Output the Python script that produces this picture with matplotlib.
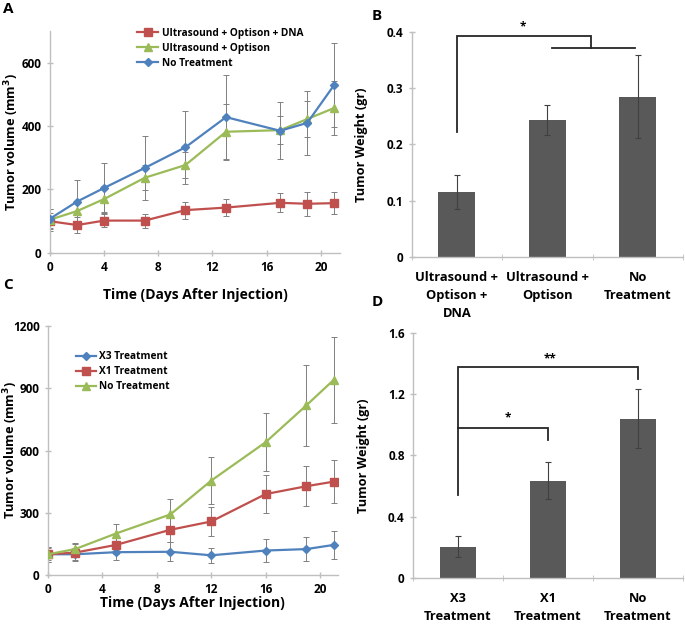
import numpy as np
import matplotlib.pyplot as plt

plt.rcParams['font.family'] = ['Open Sans', 'DejaVu Sans']
plt.rcParams['font.weight'] = 'bold'

# panel A - tumor volume
days_a = [0, 2, 4, 7, 10, 13, 17, 19, 21]
dna_y = [100, 88, 102, 102, 135, 143, 158, 155, 157]
dna_err = [25, 25, 20, 22, 27, 27, 30, 38, 35]
opt_y = [105, 132, 170, 237, 277, 382, 387, 422, 457]
opt_err = [35, 30, 40, 40, 40, 88, 45, 58, 85]
not_a_y = [108, 162, 205, 268, 333, 428, 385, 410, 530]
not_a_err = [30, 68, 80, 100, 115, 133, 90, 100, 133]

# panel B - tumor weight
cats_b = ['Ultrasound +\nOptison +\nDNA', 'Ultrasound +\nOptison', 'No\nTreatment']
w_b = [0.115, 0.243, 0.285]
w_b_err = [0.03, 0.027, 0.073]

# panel C - tumor volume
days_c = [0, 2, 5, 9, 12, 16, 19, 21]
x3_y = [100, 100, 110, 112, 95, 118, 125, 145]
x3_err = [35, 30, 40, 45, 35, 55, 58, 68]
x1_y = [100, 108, 145, 218, 258, 390, 428, 450]
x1_err = [35, 40, 45, 60, 68, 90, 97, 105]
not_c_y = [100, 125, 200, 292, 455, 640, 818, 940]
not_c_err = [30, 30, 48, 75, 115, 140, 195, 205]

# panel D - tumor weight
cats_d = ['X3\nTreatment', 'X1\nTreatment', 'No\nTreatment']
w_d = [0.205, 0.635, 1.04]
w_d_err = [0.07, 0.12, 0.19]

red = '#C0504D'
green = '#9BBB59'
blue = '#4F81BD'
bar_col = '#595959'
spine_col = '#BFBFBF'

fig = plt.figure(figsize=(6.85, 6.24), dpi=100)
fs = 8.5     # tick labels
lfs = 9.2    # axis labels


def style(ax):
    for s in ['top', 'right']:
        ax.spines[s].set_visible(False)
    for s in ['left', 'bottom']:
        ax.spines[s].set_color(spine_col)
        ax.spines[s].set_linewidth(1)
    ax.tick_params(axis='both', direction='inout', length=5, color=spine_col,
                   labelsize=fs, width=1)
    for lab in ax.get_xticklabels() + ax.get_yticklabels():
        lab.set_fontweight('bold')


def series(ax, x, y, err, col, marker, ms, label):
    ax.errorbar(x, y, yerr=err, fmt='none', ecolor='#808080', elinewidth=0.7,
                capsize=2.2, capthick=0.7, zorder=1)
    ax.plot(x, y, color=col, marker=marker, markersize=ms, linewidth=1.6,
            label=label, zorder=3)


# A
axA = fig.add_axes([0.073, 0.5946, 0.423, 0.356])
series(axA, days_a, dna_y, dna_err, red, 's', 6, 'Ultrasound + Optison + DNA')
series(axA, days_a, opt_y, opt_err, green, '^', 5.5, 'Ultrasound + Optison')
series(axA, days_a, not_a_y, not_a_err, blue, 'D', 4, 'No Treatment')
axA.set_xlim(0, 21.4)
axA.set_ylim(0, 700)
axA.set_xticks([0, 4, 8, 12, 16, 20])
axA.set_yticks([0, 200, 400, 600])
axA.set_ylabel('Tumor volume (mm$^\\mathbf{3}$)', fontsize=lfs, fontweight='bold')
axA.yaxis.set_label_coords(-0.1, 0.5)
axA.set_xlabel('Time (Days After Injection)', fontsize=lfs + 0.8, fontweight='bold', labelpad=10)
axA.legend(loc='upper left', bbox_to_anchor=(0.27, 1.055), frameon=False,
           prop={'size': 7.3, 'weight': 'bold'}, handlelength=2.0, labelspacing=0.4,
           handletextpad=0.4)
style(axA)


def bars(ax, cats, vals, errs):
    x = np.arange(len(cats))
    ax.bar(x, vals, width=0.41, color=bar_col, zorder=2)
    ax.errorbar(x, vals, yerr=errs, fmt='none', ecolor='#404040', elinewidth=0.8,
                capsize=2.5, capthick=0.8, zorder=3)
    ax.set_xlim(-0.5, len(cats) - 0.5)
    ax.set_xticks(x)
    ax.set_xticklabels(cats, fontsize=9.3, fontweight='bold', linespacing=1.5)
    ax.set_xticks(np.arange(len(cats) + 1) - 0.5, minor=True)
    return x


# B
axB = fig.add_axes([0.601, 0.588, 0.396, 0.361])
xb = bars(axB, cats_b, w_b, w_b_err)
axB.set_ylim(0, 0.4)
axB.set_yticks([0, 0.1, 0.2, 0.3, 0.4])
axB.set_yticklabels(['0', '0.1', '0.2', '0.3', '0.4'])
axB.set_ylabel('Tumor Weight (gr)', fontsize=lfs, fontweight='bold')
axB.yaxis.set_label_coords(-0.16, 0.5)
style(axB)
axB.tick_params(axis='x', which='major', length=0, pad=10, labelsize=9.3)
axB.tick_params(axis='x', which='minor', direction='inout', length=5, color=spine_col)
axB.plot([xb[0], xb[0], 1.48, 1.48], [0.223, 0.393, 0.393, 0.372], color='#262626',
         lw=1.3, clip_on=False, solid_joinstyle='miter')
axB.plot([1.05, 1.97], [0.372, 0.372], color='#262626', lw=1.3, clip_on=False)
axB.text(0.73, 0.398, '*', ha='center', va='bottom', fontsize=8.5, fontweight='bold')

# C
axC = fig.add_axes([0.070, 0.0785, 0.423, 0.399])
series(axC, days_c, x3_y, x3_err, blue, 'D', 4, 'X3 Treatment')
series(axC, days_c, x1_y, x1_err, red, 's', 6, 'X1 Treatment')
series(axC, days_c, not_c_y, not_c_err, green, '^', 5.5, 'No Treatment')
axC.set_xlim(0, 21.3)
axC.set_ylim(0, 1200)
axC.set_xticks([0, 4, 8, 12, 16, 20])
axC.set_yticks([0, 300, 600, 900, 1200])
axC.set_ylabel('Tumor volume (mm$^\\mathbf{3}$)', fontsize=lfs, fontweight='bold')
axC.yaxis.set_label_coords(-0.097, 0.5)
axC.set_xlabel('Time (Days After Injection)', fontsize=lfs + 0.8, fontweight='bold', labelpad=0)
axC.legend(loc='upper left', bbox_to_anchor=(0.065, 0.935), frameon=False,
           prop={'size': 7.3, 'weight': 'bold'}, handlelength=2.0, labelspacing=0.4,
           handletextpad=0.3)
style(axC)

# D
axD = fig.add_axes([0.603, 0.0737, 0.394, 0.393])
xd = bars(axD, cats_d, w_d, w_d_err)
axD.set_ylim(0, 1.6)
axD.set_yticks([0, 0.4, 0.8, 1.2, 1.6])
axD.set_yticklabels(['0', '0.4', '0.8', '1.2', '1.6'])
axD.set_ylabel('Tumor Weight (gr)', fontsize=lfs, fontweight='bold')
axD.yaxis.set_label_coords(-0.16, 0.5)
style(axD)
axD.tick_params(axis='x', which='major', length=0, pad=10, labelsize=9.3)
axD.tick_params(axis='x', which='minor', direction='inout', length=5, color=spine_col)
axD.plot([xd[0], xd[0], xd[2], xd[2]], [0.54, 1.375, 1.375, 1.3], color='#262626',
         lw=1.3, clip_on=False, solid_joinstyle='miter')
axD.plot([xd[0], xd[1], xd[1]], [0.98, 0.98, 0.9], color='#262626',
         lw=1.3, clip_on=False, solid_joinstyle='miter')
axD.text(1.02, 1.39, '**', ha='center', va='bottom', fontsize=8.5, fontweight='bold')
axD.text(0.55, 1.0, '*', ha='center', va='bottom', fontsize=8.5, fontweight='bold')

# panel letters
fig.text(0.005, 0.997, 'A', fontsize=11, fontweight='bold', va='top')
fig.text(0.543, 0.985, 'B', fontsize=11, fontweight='bold', va='top')
fig.text(0.005, 0.555, 'C', fontsize=11, fontweight='bold', va='top')
fig.text(0.543, 0.527, 'D', fontsize=11, fontweight='bold', va='top')

fig.savefig('out.png', dpi=100)
